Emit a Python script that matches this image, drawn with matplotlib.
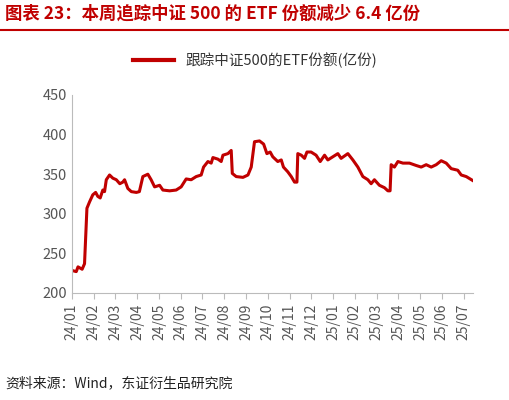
import matplotlib.pyplot as plt
from matplotlib.lines import Line2D

plt.rcParams['font.family'] = ['Noto Sans CJK SC', 'DejaVu Sans']

# months since 2024-01 and ETF shares (100m units)
months = [0, 0.2, 0.28, 0.47, 0.58, 0.69, 0.81, 0.96, 1.09, 1.19, 1.3, 1.42, 1.5, 1.58, 1.73,
          1.88, 2.04, 2.2, 2.34, 2.42, 2.57, 2.73, 2.96, 3.1, 3.26, 3.49, 3.64, 3.8, 4.03, 4.18,
          4.49, 4.79, 5.02, 5.25, 5.48, 5.71, 5.94, 6.05, 6.25, 6.4, 6.48, 6.71, 6.86, 6.94,
          7.17, 7.32, 7.37, 7.55, 7.86, 8.09, 8.24, 8.39, 8.62, 8.81, 8.96, 9.11, 9.23, 9.46,
          9.62, 9.72, 9.92, 10.08, 10.23, 10.34, 10.38, 10.54, 10.69, 10.8, 10.99, 11.22, 11.41,
          11.61, 11.76, 11.99, 12.22, 12.37, 12.68, 12.91, 13.14, 13.37, 13.6, 13.75, 13.9,
          14.13, 14.36, 14.52, 14.62, 14.67, 14.82, 14.98, 15.21, 15.51, 15.82, 16.05, 16.28,
          16.51, 16.74, 16.97, 17.2, 17.43, 17.73, 17.89, 18.12, 18.42]
shares = [228.5, 227, 233, 230, 237, 307, 315, 324, 327, 322, 320, 330, 328, 343, 349,
          345, 343, 338, 340, 343, 332, 328, 327, 328, 347, 350, 343, 334, 336, 330,
          329, 330, 334, 344, 343, 347, 349, 359, 366, 364, 371, 369, 366, 374,
          376, 380, 351, 347, 346, 349, 359, 391, 392, 388, 376, 378, 372, 366,
          368, 359, 353, 347, 340, 340, 376, 374, 370, 378, 378, 374, 366,
          374, 368, 372, 376, 370, 376, 368, 359, 347, 343, 338, 343,
          336, 333, 329, 329, 362, 359, 366, 364, 364, 361, 359, 362,
          359, 362, 367, 364, 357, 355, 349, 347, 342]
tick_labels = ['24/01', '24/02', '24/03', '24/04', '24/05', '24/06', '24/07', '24/08', '24/09',
               '24/10', '24/11', '24/12', '25/01', '25/02', '25/03', '25/04', '25/05', '25/06',
               '25/07']

red = '#C00000'
fig = plt.figure(figsize=(5.1, 4), dpi=100)
ax = fig.add_axes([0.141, 0.2675, 0.786, 0.495])
ax.plot(months, shares, color=red, lw=2.2)
ax.set_xlim(0, 18.42)
ax.set_ylim(200, 450)
ax.set_yticks(range(200, 451, 50))
ax.set_xticks(range(len(tick_labels)))
ax.set_xticklabels(tick_labels, rotation=90, fontsize=10, color='#555555')
ax.tick_params(axis='y', labelsize=10.5, colors='#555555', length=0)
ax.tick_params(axis='x', length=4, color='#bbbbbb', direction='out')
for s in ['top', 'right']:
    ax.spines[s].set_visible(False)
for s in ['left', 'bottom']:
    ax.spines[s].set_color('#bbbbbb')

fig.text(0.01, 0.965, '图表 23：本周追踪中证 500 的 ETF 份额减少 6.4 亿份', color=red,
         fontsize=12.5, fontweight='bold', va='center')
fig.add_artist(Line2D([0, 1], [0.925, 0.925], color=red, lw=1.5))
fig.legend([Line2D([], [], color=red, lw=3)], ['跟踪中证500的ETF份额(亿份)'], loc='center',
           bbox_to_anchor=(0.5, 0.85), frameon=False, fontsize=10.5, handlelength=2.8,
           labelcolor='#333333')
fig.text(0.01, 0.042, '资料来源：Wind，东证衍生品研究院', fontsize=10, color='#222222', va='center')
fig.savefig('out.png', dpi=100)
